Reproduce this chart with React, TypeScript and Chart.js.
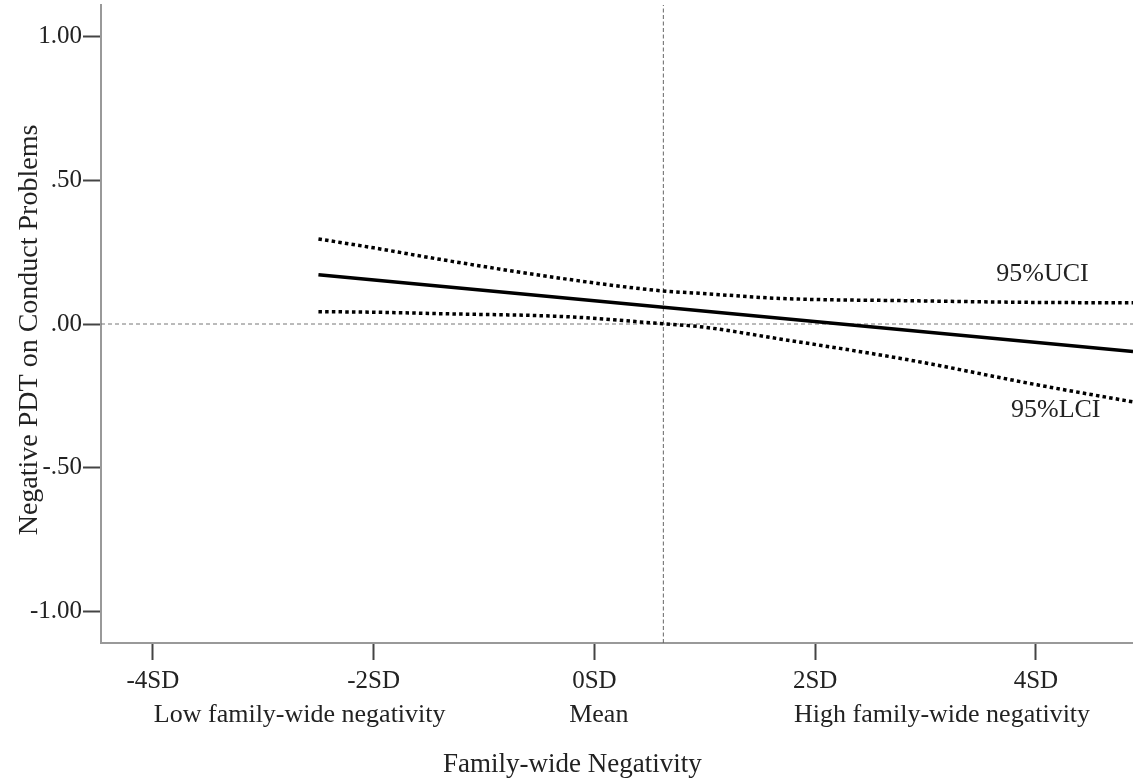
import React, { useEffect, useRef } from "react";
import { Chart, registerables } from "chart.js";

Chart.register(...registerables);

// ---- data ----
const xTickValues = [-4, -2, 0, 2, 4];
const xTickLabels = ["-4SD", "-2SD", "0SD", "2SD", "4SD"];
const yTickValues = [-1, -0.5, 0, 0.5, 1];
const yTickLabels = ["-1.00", "-.50", ".00", ".50", "1.00"];

const estimateX = [-2.5, 4.88];
const estimateY = [0.171, -0.096];

const ciX = [-2.5, -2.0, -1.4, -0.23, 0.62, 0.95, 1.68, 2.85, 4.03, 4.88];
const uciY = [0.296, 0.265, 0.225, 0.155, 0.115, 0.107, 0.089, 0.081, 0.075, 0.074];
const lciY = [0.043, 0.041, 0.036, 0.025, 0.001, -0.009, -0.052, -0.125, -0.213, -0.271];

const groupLabels = ["Low family-wide negativity", "Mean", "High family-wide negativity"];
const groupLabelAt = [-2.67, 0.04, 3.15];

const jnBoundary = 0.625; // vertical reference (SD)
const zeroLine = 0; // horizontal reference

const xMin = -4.47;
const xMax = 4.88;
const yMin = -1.11;
const yMax = 1.11;

const FONT = '"Liberation Serif", "Times New Roman", serif';
const TEXT = "#222";

const pts = (xs: number[], ys: number[]) => xs.map((v, i) => ({ x: v, y: ys[i] }));

const annotations = {
  id: "annotations",
  afterDraw(chart: any) {
    const { ctx, chartArea, scales } = chart;
    const x = scales.x;
    const y = scales.y;
    ctx.save();
    ctx.fillStyle = TEXT;
    ctx.textAlign = "center";
    ctx.textBaseline = "middle";

    ctx.font = `26px ${FONT}`;
    groupLabels.forEach((t, i) => {
      ctx.fillText(t, x.getPixelForValue(groupLabelAt[i]), chartArea.bottom + 72);
    });

    ctx.font = `27px ${FONT}`;
    ctx.fillText("Family-wide Negativity", x.getPixelForValue(-0.2), chartArea.bottom + 122);

    ctx.save();
    ctx.font = `28px ${FONT}`;
    ctx.translate(30, (chartArea.top + chartArea.bottom) / 2 + 6);
    ctx.rotate(-Math.PI / 2);
    ctx.fillText("Negative PDT on Conduct Problems", 0, 0);
    ctx.restore();

    ctx.font = `26px ${FONT}`;
    ctx.fillText("95%UCI", x.getPixelForValue(4.06), y.getPixelForValue(0.174));
    ctx.fillText("95%LCI", x.getPixelForValue(4.18), y.getPixelForValue(-0.3));
    ctx.restore();
  },
};

export default function App() {
  const ref = useRef<HTMLCanvasElement | null>(null);

  useEffect(() => {
    if (!ref.current) return;
    const dotted = {
      borderColor: "#000",
      borderWidth: 3.5,
      borderDash: [3.5, 3.2],
      borderCapStyle: "butt",
      pointRadius: 0,
      showLine: true,
      cubicInterpolationMode: "monotone",
      fill: false,
    };
    const chart = new Chart(ref.current, {
      type: "scatter",
      data: {
        datasets: [
          {
            label: "Estimate",
            data: pts(estimateX, estimateY),
            borderColor: "#000",
            borderWidth: 3.5,
            pointRadius: 0,
            showLine: true,
            fill: false,
          },
          { label: "95%UCI", data: pts(ciX, uciY), ...dotted } as any,
          { label: "95%LCI", data: pts(ciX, lciY), ...dotted } as any,
          {
            label: "zero",
            data: [
              { x: xMin, y: zeroLine },
              { x: xMax, y: zeroLine },
            ],
            borderColor: "#777",
            borderWidth: 1,
            borderDash: [4, 3],
            pointRadius: 0,
            showLine: true,
          },
          {
            label: "jn",
            data: [
              { x: jnBoundary, y: yMin },
              { x: jnBoundary, y: yMax },
            ],
            borderColor: "#666",
            borderWidth: 1,
            borderDash: [4, 2.5],
            pointRadius: 0,
            showLine: true,
          },
        ],
      },
      options: {
        animation: false,
        responsive: false,
        devicePixelRatio: 1,
        layout: { padding: { top: 5, left: 0, right: 0, bottom: 0 } },
        plugins: {
          legend: { display: false },
          tooltip: { enabled: false },
          title: { display: false },
        },
        scales: {
          x: {
            type: "linear",
            min: xMin,
            max: xMax,
            afterBuildTicks: (s: any) => {
              s.ticks = xTickValues.map((v) => ({ value: v }));
            },
            afterFit: (s: any) => {
              s.height = 137;
              s.paddingLeft = 0;
              s.paddingRight = 0;
            },
            ticks: {
              autoSkip: false,
              maxRotation: 0,
              padding: 6,
              color: TEXT,
              font: { family: FONT, size: 25 },
              callback: (v: any) => {
                const i = xTickValues.indexOf(Number(v));
                return i >= 0 ? xTickLabels[i] : "";
              },
            },
            grid: {
              display: true,
              drawOnChartArea: false,
              drawTicks: true,
              tickLength: 17,
              tickColor: "#444",
              tickWidth: 2,
            },
            border: { display: true, color: "#999", width: 2 },
          },
          y: {
            type: "linear",
            min: yMin,
            max: yMax,
            afterBuildTicks: (s: any) => {
              s.ticks = yTickValues.map((v) => ({ value: v }));
            },
            afterFit: (s: any) => {
              s.width = 101;
              s.paddingTop = 0;
              s.paddingBottom = 0;
            },
            ticks: {
              autoSkip: false,
              padding: 1,
              color: TEXT,
              font: { family: FONT, size: 25 },
              callback: (v: any) => {
                const i = yTickValues.indexOf(Number(v));
                return i >= 0 ? yTickLabels[i] : "";
              },
            },
            grid: {
              display: true,
              drawOnChartArea: false,
              drawTicks: true,
              tickLength: 18,
              tickColor: "#444",
              tickWidth: 2,
            },
            border: { display: true, color: "#999", width: 2 },
          },
        },
      },
      plugins: [annotations],
    } as any);
    return () => chart.destroy();
  }, []);

  return (
    <div style={{ position: "absolute", left: 0, top: 0, width: 1133, height: 780, background: "#fff" }}>
      <canvas ref={ref} width={1133} height={780} style={{ display: "block" }} />
    </div>
  );
}
